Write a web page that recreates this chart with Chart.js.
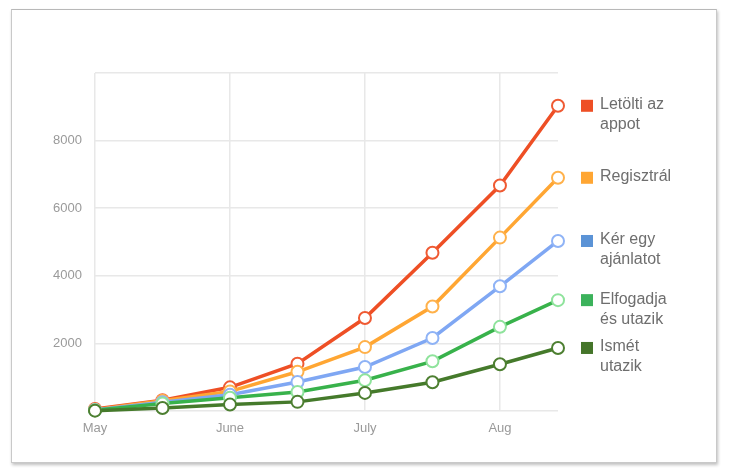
<!DOCTYPE html>
<html>
<head>
<meta charset="utf-8">
<script src="https://cdn.jsdelivr.net/npm/chart.js@4"></script>
<style>
  body { margin: 0; background: #fff; }
  .card {
    position: absolute; left: 11px; top: 9px; width: 704px; height: 452px;
    border: 1px solid #c9c9c9; border-top-color: #b8b8b8;
    box-shadow: 1px 2px 3px rgba(0,0,0,0.25);
    background: #fff;
  }
  #chart { position: absolute; left: 0; top: 0; }
</style>
</head>
<body>
<div class="card"></div>
<canvas id="chart" width="730" height="474"></canvas>
<script>
// x positions in months after May 1 (half-month steps, last sample mid-August)
const xMonths = [0, 0.5, 1, 1.5, 2, 2.5, 3, 3.43];
const monthLabels = ['May', 'June', 'July', 'Aug'];
const yTicks = [2000, 4000, 6000, 8000];

const seriesNames = [
    ['Letölti az', 'appot'],
    ['Regisztrál'],
    ['Kér egy', 'ajánlatot'],
    ['Elfogadja', 'és utazik'],
    ['Ismét', 'utazik']
];
const downloads = [60, 320, 700, 1400, 2750, 4680, 6670, 9030];
const registers = [40, 300, 580, 1160, 1890, 3090, 5130, 6900];
const quotes    = [30, 260, 480, 860, 1300, 2160, 3690, 5030];
const accepts   = [20, 220, 390, 560, 910, 1470, 2490, 3280];
const repeats   = [10, 90, 190, 270, 535, 850, 1385, 1865];

const lineColors   = ['#ee4f25', '#ffa633', '#7fa7f3', '#38b24b', '#457a2b'];
const markerColors = ['#ef5a33', '#ffb14a', '#8fb3f6', '#8fe39c', '#4d7f31'];
const legendColors = ['#ee4f25', '#ffa633', '#5b93d6', '#3bb25b', '#45752a'];

const allSeries = [downloads, registers, quotes, accepts, repeats];

// Legend drawn next to the last point of each series
const endLegend = {
    id: 'endLegend',
    afterDatasetsDraw(chart) {
        const ctx = chart.ctx;
        const area = chart.chartArea;
        const y = chart.scales.y;
        ctx.save();
        ctx.font = '16px "Liberation Sans", Arial, sans-serif';
        ctx.textBaseline = 'middle';
        ctx.textAlign = 'left';
        allSeries.forEach((vals, i) => {
            const py = y.getPixelForValue(vals[vals.length - 1]);
            ctx.fillStyle = legendColors[i];
            ctx.fillRect(area.right + 23, py - 6, 12, 12);
            ctx.fillStyle = '#6e6e6e';
            seriesNames[i].forEach((line, j) => {
                ctx.fillText(line, area.right + 42, py - 1 + j * 20);
            });
        });
        ctx.restore();
    }
};

const ctx = document.getElementById('chart').getContext('2d');
new Chart(ctx, {
    type: 'line',
    data: {
        datasets: allSeries.map((vals, i) => ({
            label: seriesNames[i].join(' '),
            data: vals.map((v, k) => ({ x: xMonths[k], y: v })),
            borderColor: lineColors[i],
            borderWidth: 3.5,
            pointRadius: 6,
            pointBorderWidth: 2,
            pointBackgroundColor: '#fff',
            pointBorderColor: markerColors[i],
            tension: 0,
            clip: false,
            order: 5 - i
        }))
    },
    options: {
        responsive: false,
        animation: false,
        layout: { padding: { left: 0, right: 172, top: 73, bottom: 0 } },
        plugins: { legend: { display: false }, tooltip: { enabled: false } },
        scales: {
            x: {
                type: 'linear',
                min: 0,
                max: 3.43,
                afterBuildTicks: s => { s.ticks = monthLabels.map((m, i) => ({ value: i })); },
                afterFit: s => { s.height = 63; },
                grid: { color: '#e8e8e8', lineWidth: 1.5, drawTicks: false },
                border: { display: false },
                ticks: {
                    padding: 10,
                    color: '#9a9a9a',
                    font: { family: '"Liberation Sans", Arial, sans-serif', size: 13 },
                    callback: v => monthLabels[v]
                }
            },
            y: {
                min: 0,
                max: 10000,
                afterBuildTicks: s => { s.ticks = [0, ...yTicks, 10000].map(v => ({ value: v })); },
                afterFit: s => { s.width = 95; },
                grid: { color: '#e8e8e8', lineWidth: 1.5, drawTicks: false },
                border: { display: false },
                ticks: {
                    padding: 13,
                    color: '#9a9a9a',
                    font: { family: '"Liberation Sans", Arial, sans-serif', size: 13 },
                    callback: v => yTicks.includes(v) ? String(v) : ''
                }
            }
        }
    },
    plugins: [endLegend]
});
</script>
</body>
</html>
